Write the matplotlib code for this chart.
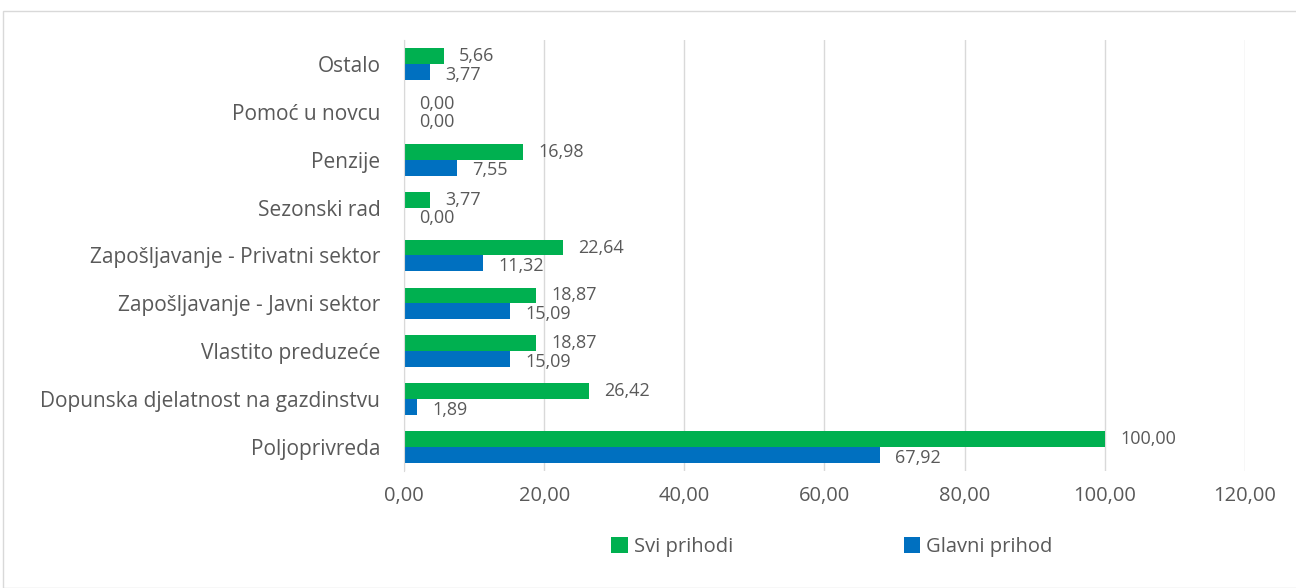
import matplotlib.pyplot as plt
from matplotlib.patches import Rectangle
import numpy as np

# Data (categories listed top to bottom)
categories = ["Ostalo", "Pomoć u novcu", "Penzije", "Sezonski rad",
              "Zapošljavanje - Privatni sektor", "Zapošljavanje - Javni sektor",
              "Vlastito preduzeće", "Dopunska djelatnost na gazdinstvu", "Poljoprivreda"]
svi_prihodi = [5.66, 0.00, 16.98, 3.77, 22.64, 18.87, 18.87, 26.42, 100.00]
glavni_prihod = [3.77, 0.00, 7.55, 0.00, 11.32, 15.09, 15.09, 1.89, 67.92]
x_ticks = [0, 20, 40, 60, 80, 100, 120]

green = "#00B050"
blue = "#0070C0"
text_col = "#595959"

plt.rcParams['font.family'] = ['Open Sans', 'DejaVu Sans']

def fmt(v):
    return f"{v:.2f}".replace(".", ",")

fig = plt.figure(figsize=(12.96, 5.88), dpi=100)
ax = fig.add_axes([0.3117, 0.199, 0.6489, 0.733])

y = np.arange(len(categories))
h = 0.33
bars_g = ax.barh(y - h / 2, svi_prihodi, height=h, color=green)
bars_b = ax.barh(y + h / 2, glavni_prihod, height=h, color=blue)

for b, v in zip(bars_g, svi_prihodi):
    ax.annotate(fmt(v), (b.get_width(), b.get_y() + b.get_height() / 2),
                xytext=(11, 0), textcoords="offset points", va="center",
                ha="left", fontsize=13, color=text_col)
for b, v in zip(bars_b, glavni_prihod):
    ax.annotate(fmt(v), (b.get_width(), b.get_y() + b.get_height() / 2),
                xytext=(11, -2), textcoords="offset points", va="center",
                ha="left", fontsize=13, color=text_col)

ax.set_ylim(len(categories) - 0.5, -0.5)
ax.set_yticks(y)
ax.set_yticklabels(categories, fontsize=15, color=text_col)
ax.set_xlim(0, 120)
ax.set_xticks(x_ticks)
ax.set_xticklabels([fmt(t) for t in x_ticks], fontsize=14.5, color=text_col)
ax.tick_params(axis="both", length=0)
ax.tick_params(axis="x", pad=11)
ax.tick_params(axis="y", pad=17)
ax.grid(axis="x", color="#d9d9d9", linewidth=1)
ax.set_axisbelow(True)
for s in ["top", "right", "bottom"]:
    ax.spines[s].set_visible(False)
ax.spines["left"].set_color("#d9d9d9")

leg = fig.legend([bars_g, bars_b], ["Svi prihodi", "Glavni prihod"],
                 loc="center", bbox_to_anchor=(0.642, 0.07), ncol=2,
                 frameon=False, fontsize=14.5, handlelength=0.8,
                 handleheight=0.8, handletextpad=0.3, columnspacing=8.5)
for t in leg.get_texts():
    t.set_color(text_col)

fig.patches.append(Rectangle((3 / 1296, 0), 1.2, 1 - 11 / 588,
                             transform=fig.transFigure, fill=False,
                             edgecolor="#d9d9d9", linewidth=1))

fig.savefig("out.png", dpi=100)
